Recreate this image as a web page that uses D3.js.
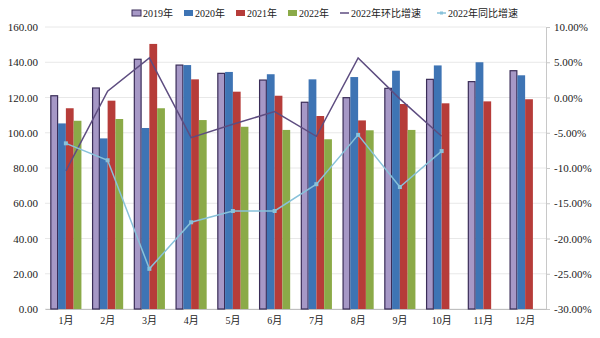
<!DOCTYPE html>
<html><head><meta charset="utf-8">
<script src="https://cdn.jsdelivr.net/npm/d3@7/dist/d3.min.js"></script>
<style>
html,body{margin:0;padding:0;background:#fff;}
svg{display:block;}
svg text{font-family:"Liberation Serif","DejaVu Serif","Noto Sans CJK SC",serif;}
</style></head>
<body><svg id="c" width="600" height="338"></svg>
<script>
const months = ["1月","2月","3月","4月","5月","6月","7月","8月","9月","10月","11月","12月"];
const s2019 = [121.0,125.4,141.7,138.4,133.7,129.9,117.3,119.9,125.2,130.3,129.0,135.2];
const s2020 = [105.3,96.8,102.7,138.4,134.5,133.2,130.3,131.6,135.2,138.2,140.0,132.6];
const s2021 = [113.9,118.2,150.4,130.3,123.3,121.0,109.5,107.0,116.3,116.7,117.8,119.0];
const s2022 = [106.8,107.8,113.9,107.2,103.4,101.6,96.3,101.4,101.6,null,null,null];
const mom2022 = [-10.4,0.9,5.6,-5.7,-3.8,-2.0,-5.5,5.6,-0.2,-5.5,null,null];
const yoy2022 = [-6.5,-8.9,-24.3,-17.7,-16.1,-16.1,-12.3,-5.3,-12.7,-7.6,null,null];
const leftTicks = [0,20,40,60,80,100,120,140,160];
const rightTicks = [-30,-25,-20,-15,-10,-5,0,5,10];
const barNames = ["2019年","2020年","2021年","2022年"];
const lineNames = ["2022年环比增速","2022年同比增速"];

const barSeries = [s2019,s2020,s2021,s2022];
const barColors = ["#A698C6","#3E74B4","#B63C39","#8BAA48"];
const barStroke = ["#3A2D58",null,null,null];
const momColor = "#5E4D80", yoyColor = "#88C2DA";

const svg = d3.select("#c");
const L=45, R=546, T=27, B=309;
const x = d3.scaleBand().domain(months).range([L,R]).paddingInner(0.255).paddingOuter(0.1275);
const xs = d3.scaleBand().domain(d3.range(4)).range([0,x.bandwidth()]);
const yL = d3.scaleLinear().domain([0,160]).range([B,T]);
const yR = d3.scaleLinear().domain([-30,10]).range([B,T]);

// gridlines
svg.append("g").selectAll("line").data(leftTicks).join("line")
  .attr("x1",L).attr("x2",R).attr("y1",d=>yL(d)).attr("y2",d=>yL(d))
  .attr("stroke","#E8E8E8").attr("stroke-width",1);

// left axis
const gl = svg.append("g").attr("transform",`translate(${L},0)`)
  .call(d3.axisLeft(yL).tickValues(leftTicks).tickFormat(d=>d.toFixed(2)).tickSize(0).tickPadding(7))
  .attr("font-size",11);
gl.select(".domain").remove();
gl.selectAll("text").attr("fill","#222");

// right axis
const gr = svg.append("g").attr("transform",`translate(${R},0)`)
  .call(d3.axisRight(yR).tickValues(rightTicks).tickFormat(d=>d.toFixed(2)+"%").tickSize(4).tickPadding(4))
  .attr("font-size",11);
gr.select(".domain").attr("stroke","#C8C8C8");
gr.selectAll(".tick line").attr("stroke","#C8C8C8");
gr.selectAll("text").attr("fill","#222");

// bottom axis
const gb = svg.append("g").attr("transform",`translate(0,${B})`)
  .call(d3.axisBottom(x).tickSize(0).tickPadding(8))
  .attr("font-size",10);
gb.select(".domain").attr("stroke","#BFBFBF");
gb.selectAll("text").attr("fill","#222");

// bars
barSeries.forEach((ser,si)=>{
  svg.append("g").selectAll("rect").data(months.map((m,i)=>({m,v:ser[i]})).filter(d=>d.v!=null)).join("rect")
    .attr("x",d=>x(d.m)+xs(si)+(barStroke[si]?0.5:0))
    .attr("width",xs.bandwidth()-(barStroke[si]?1:0))
    .attr("y",d=>yL(d.v))
    .attr("height",d=>B-yL(d.v))
    .attr("fill",barColors[si])
    .attr("stroke",barStroke[si]||"none")
    .attr("stroke-width",1.2);
});

// lines
const cx = m => x(m)+x.bandwidth()/2;
const mk = arr => months.map((m,i)=>({m,v:arr[i]})).filter(d=>d.v!=null);
const line = d3.line().x(d=>cx(d.m)).y(d=>yR(d.v));
svg.append("path").datum(mk(mom2022)).attr("d",line).attr("fill","none")
  .attr("stroke",momColor).attr("stroke-width",1.5);
svg.append("path").datum(mk(yoy2022)).attr("d",line).attr("fill","none")
  .attr("stroke",yoyColor).attr("stroke-width",1.5);
svg.append("g").selectAll("rect").data(mk(yoy2022)).join("rect")
  .attr("x",d=>cx(d.m)-2).attr("y",d=>yR(d.v)-2).attr("width",4).attr("height",4)
  .attr("fill",yoyColor);

// legend
const lg = svg.append("g").attr("font-size",10).attr("fill","#222");
let lx = 132; const ly = 13;
barNames.forEach((n,i)=>{
  lg.append("rect").attr("x",lx).attr("y",ly-3).attr("width",9).attr("height",6)
    .attr("fill",barColors[i]).attr("stroke",barStroke[i]||"none");
  const t = lg.append("text").attr("x",lx+11).attr("y",ly+3.5).text(n);
  lx += 11 + t.node().getComputedTextLength() + 11;
});
lineNames.forEach((n,i)=>{
  const c = i===0?momColor:yoyColor;
  lg.append("line").attr("x1",lx).attr("x2",lx+9).attr("y1",ly).attr("y2",ly).attr("stroke",c).attr("stroke-width",1.5);
  if(i===1) lg.append("rect").attr("x",lx+3).attr("y",ly-1.5).attr("width",3).attr("height",3).attr("fill",c);
  const t = lg.append("text").attr("x",lx+11).attr("y",ly+3.5).text(n);
  lx += 11 + t.node().getComputedTextLength() + 16;
});
</script></body></html>
